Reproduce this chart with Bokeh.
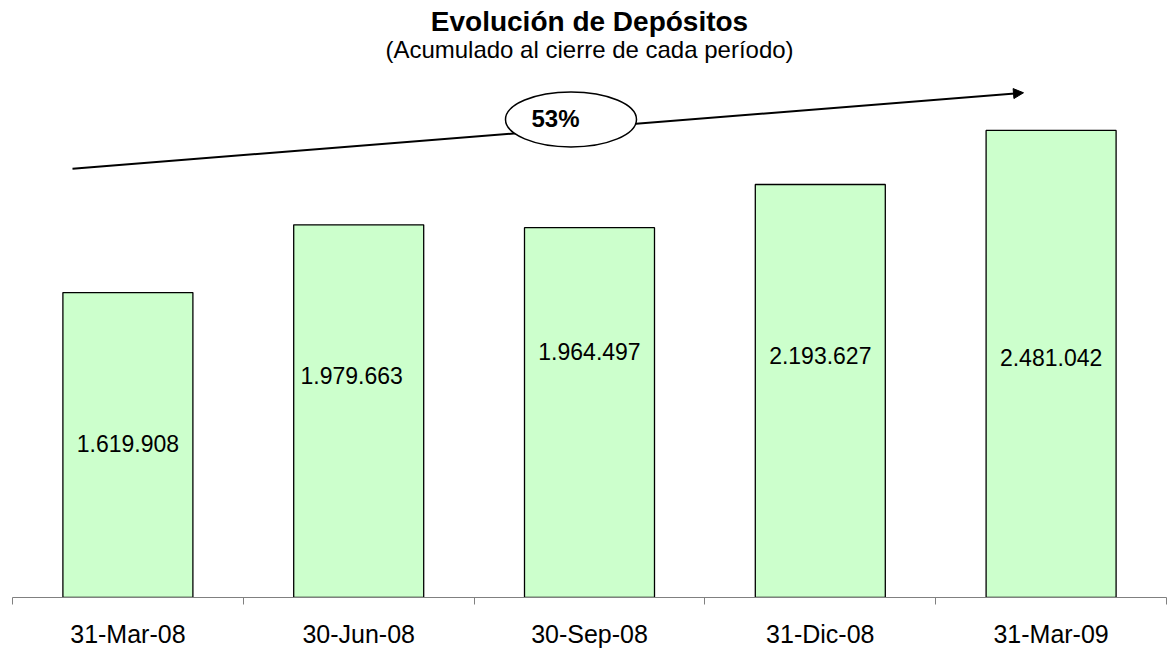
from bokeh.plotting import figure
from bokeh.models import (Range1d, FixedTicker, ColumnDataSource, LabelSet, Label,
                          Arrow, NormalHead, LinearAxis)
from bokeh.core.properties import value
from bokeh.embed import file_html
from bokeh.resources import INLINE

# ---- data ----
categories = ["31-Mar-08", "30-Jun-08", "30-Sep-08", "31-Dic-08", "31-Mar-09"]
depositos = [1619908, 1979663, 1964497, 2193627, 2481042]
title_text = "Evolución de Depósitos"
subtitle_text = "(Acumulado al cierre de cada período)"

# ---- layout helpers (page pixel -> data) ----
FONT = "Liberation Sans"
FRAME_TOP, FRAME_BOTTOM = 8, 600
FRAME_LEFT, FRAME_W = 12, 1154
YMAX = 3128600
upp = YMAX / (FRAME_BOTTOM - FRAME_TOP)
n = len(categories)
cat_w = FRAME_W / n


def py(page_y):
    return (FRAME_BOTTOM - page_y) * upp


def px(page_x):
    return (page_x - FRAME_LEFT) / cat_w


p = figure(width=1169, height=650, output_backend="svg", toolbar_location=None,
           x_range=Range1d(0, n), y_range=Range1d(0, YMAX),
           y_axis_location=None, min_border_left=FRAME_LEFT,
           min_border_right=1169 - FRAME_LEFT - FRAME_W,
           min_border_top=FRAME_TOP, min_border_bottom=650 - FRAME_BOTTOM)
p.outline_line_color = None
p.grid.visible = False
p.background_fill_color = "white"
p.border_fill_color = "white"

# axis with ticks at category boundaries
ax = p.xaxis[0]
ax.ticker = FixedTicker(ticks=list(range(n + 1)))
ax.major_label_text_font_size = "0px"
ax.major_label_standoff = 0
ax.major_tick_out = 7
ax.major_tick_in = 0
ax.minor_tick_line_color = None
ax.axis_line_color = "#808080"
ax.major_tick_line_color = "#808080"

centers = [i + 0.5 for i in range(n)]

# axis carrying the category names at category centres
lab_ax = LinearAxis(ticker=FixedTicker(ticks=centers),
                    major_label_overrides={c: cat for c, cat in zip(centers, categories)},
                    axis_line_color=None, major_tick_line_color=None,
                    minor_tick_line_color=None, major_tick_out=0, major_tick_in=0,
                    major_label_standoff=15,
                    major_label_text_font=FONT, major_label_text_font_size="25px",
                    major_label_text_color="black")
p.add_layout(lab_ax, "below")

labels = [f"{v:,}".replace(",", ".") for v in depositos]
label_center_px = [445, 376.5, 353, 357, 359]
label_dx_px = [0, -7, 0, 0, 0]
src = ColumnDataSource(dict(x=centers, top=depositos, lab=labels, dx=label_dx_px,
                            ly=[py(v) for v in label_center_px]))

# growth arrow (behind)
arrow = Arrow(x_start=px(72), y_start=py(169), x_end=px(1023), y_end=py(92.7),
              line_width=2, line_color="black",
              end=NormalHead(size=10, fill_color="black", line_color="black"),
              level="underlay")
p.add_layout(arrow)

p.vbar(x="x", top="top", width=130 / cat_w, bottom=0, source=src,
       fill_color="#CCFFCC", line_color="black", line_width=1.3)

p.add_layout(LabelSet(x="x", y="ly", text="lab", source=src, x_offset="dx",
                      text_align="center",
                      text_baseline="middle", text_font=value(FONT),
                      text_font_size=value("23px"), text_color="black"))

# growth ellipse
growth = round((depositos[-1] / depositos[0] - 1) * 100)
p.ellipse(x=[px(570.5)], y=[py(119.5)], width=[131], height=[55],
          width_units="screen", height_units="screen",
          fill_color="white", line_color="black", line_width=1.5)
p.add_layout(Label(x=px(555), y=py(119), text=f"{growth}%", text_align="center",
                   text_baseline="middle", text_font=FONT, text_font_size="24px",
                   text_font_style="bold", text_color="black"))

# titles
p.add_layout(Label(x=px(589), y=py(21.5), text=title_text, text_align="center",
                   text_baseline="middle", text_font=FONT, text_font_size="28px",
                   text_font_style="bold", text_color="black"))
p.add_layout(Label(x=px(589), y=py(49), text=subtitle_text, text_align="center",
                   text_baseline="middle", text_font=FONT, text_font_size="24px",
                   text_color="black"))

open("out.html", "w").write(file_html(p, INLINE))
